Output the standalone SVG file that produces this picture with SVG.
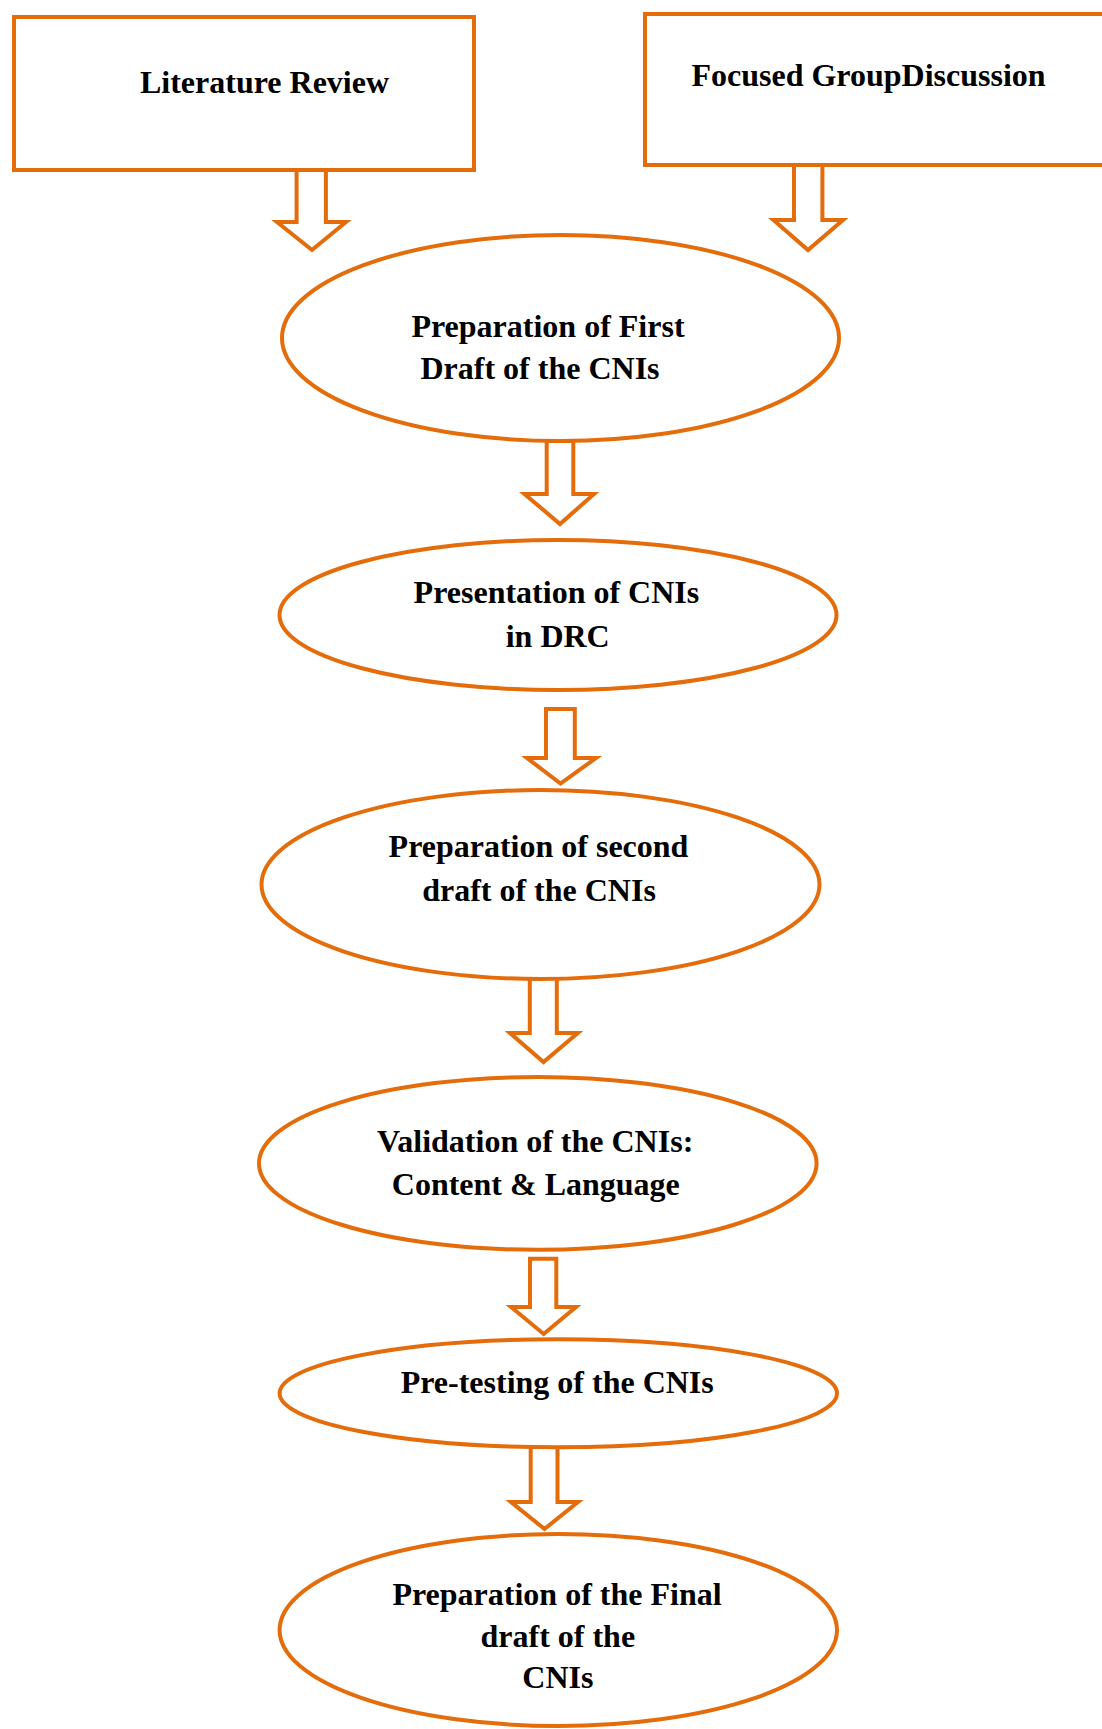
<svg xmlns="http://www.w3.org/2000/svg" width="1102" height="1729" viewBox="0 0 1102 1729">
<style>
.shape{fill:#ffffff;stroke:#E46C0A;stroke-width:4}
.arrow{fill:#ffffff;stroke:#E46C0A;stroke-width:4;stroke-linejoin:miter}
.lbl{font-family:"Liberation Serif","Times New Roman",serif;font-weight:bold;font-size:32px;fill:#000000;text-anchor:middle}
</style>
<rect x="0" y="0" width="1102" height="1729" fill="#ffffff"/>
<g id="connectors">
<polygon class="arrow" points="296.6,170 325.9,170 325.9,222 346,222 312,250 277,222 296.6,222"/>
<polygon class="arrow" points="794,165 822.4,165 822.4,220 843,220 808,250 773.5,220 794,220"/>
<polygon class="arrow" points="546.7,441 573.3,441 573.3,494 594,494 560,524 524.5,494 546.7,494"/>
<polygon class="arrow" points="546,709 574.8,709 574.8,758 596,758 560.5,783.5 527,758 546,758"/>
<polygon class="arrow" points="529.8,978 556.8,978 556.8,1033 577.8,1033 543.5,1062 510,1033 529.8,1033"/>
<polygon class="arrow" points="530,1258.7 556.3,1258.7 556.3,1307 576,1307 543.7,1334 511,1307 530,1307"/>
<polygon class="arrow" points="530.7,1447 557.5,1447 557.5,1502 578,1502 544.5,1529 511,1502 530.7,1502"/>
</g>
<g id="literature-review">
<rect class="shape" x="14" y="17" width="460" height="153"/>
<text class="lbl" x="264.5" y="93">Literature Review</text>
</g>
<g id="focused-group-discussion">
<rect class="shape" x="645" y="14" width="470" height="151"/>
<text class="lbl" x="868.5" y="86">Focused GroupDiscussion</text>
</g>
<g id="first-draft">
<ellipse class="shape" cx="560.5" cy="338" rx="278.5" ry="103"/>
<text class="lbl" x="548" y="337">Preparation of First</text>
<text class="lbl" x="540" y="379">Draft of the CNIs</text>
</g>
<g id="presentation">
<ellipse class="shape" cx="558" cy="615" rx="278.5" ry="75"/>
<text class="lbl" x="556.4" y="603.3">Presentation of CNIs</text>
<text class="lbl" x="557.7" y="646.7">in DRC</text>
</g>
<g id="second-draft">
<ellipse class="shape" cx="540.5" cy="884.5" rx="279" ry="94.5"/>
<text class="lbl" x="538.5" y="857">Preparation of second</text>
<text class="lbl" x="539" y="900.7">draft of the CNIs</text>
</g>
<g id="validation">
<ellipse class="shape" cx="537.8" cy="1163.4" rx="278.8" ry="86.4"/>
<text class="lbl" x="535.2" y="1151.7">Validation of the CNIs:</text>
<text class="lbl" x="535.8" y="1195">Content &amp; Language</text>
</g>
<g id="pre-testing">
<ellipse class="shape" cx="558.3" cy="1393.3" rx="278.7" ry="54"/>
<text class="lbl" x="557.2" y="1393.3">Pre-testing of the CNIs</text>
</g>
<g id="final-draft">
<ellipse class="shape" cx="558.3" cy="1630" rx="278.7" ry="96"/>
<text class="lbl" x="557" y="1605">Preparation of the Final</text>
<text class="lbl" x="557.8" y="1646.7">draft of the</text>
<text class="lbl" x="557.9" y="1688.3">CNIs</text>
</g>
</svg>
